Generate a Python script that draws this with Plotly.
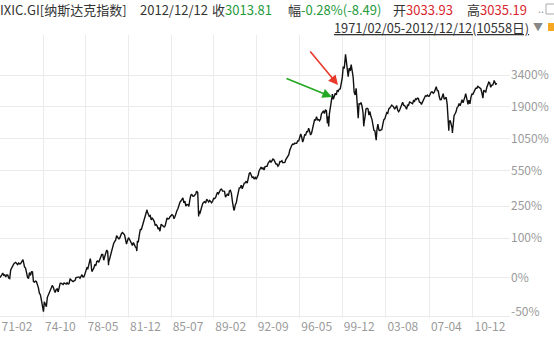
import pandas as pd
import plotly.graph_objects as go

# ---------------- data (monthly closes of the NASDAQ Composite) -------------
start_date = "1971-02-05"
base_value = 100.0

closes_1970s = [  # Feb 1971 .. Dec 1979 (month ends)
    101.3, 104.8, 108.0, 103.9, 105.0, 100.9, 104.7, 104.6, 99.0, 98.0, 114.1,
    118.9, 124.3, 126.6, 129.1, 130.4, 127.9, 125.3, 128.9, 127.0, 127.5, 131.0, 133.7,
    130.0, 120.4, 118.0, 106.8, 100.4, 98.0, 109.0, 103.7, 110.5, 110.2, 93.0, 92.2,
    94.0, 93.3, 89.7, 83.8, 76.0, 74.0, 67.6, 62.4, 55.7, 65.2, 62.4, 59.8,
    70.6, 74.0, 75.7, 79.8, 83.1, 87.0, 84.5, 80.0, 76.8, 80.9, 81.8, 77.6,
    87.0, 90.3, 90.6, 89.9, 88.3, 91.0, 90.6, 89.0, 91.3, 89.1, 90.0, 97.9,
    95.5, 94.1, 93.0, 94.3, 94.8, 99.7, 100.6, 100.1, 101.0, 98.7, 103.8, 105.1,
    100.8, 101.0, 106.2, 114.0, 118.4, 117.0, 125.0, 132.9, 131.8, 111.1, 114.1, 118.0,
    125.8, 122.6, 132.3, 133.6, 130.5, 137.0, 140.0, 150.0, 149.9, 135.5, 144.3, 151.1,
]
closes_1980s = [
    162.0, 158.0, 131.0, 139.0, 150.5, 157.8, 171.8, 181.5, 187.8, 192.8, 208.2, 202.3,
    197.8, 198.0, 210.2, 216.7, 220.6, 215.8, 211.6, 195.8, 180.0, 191.0, 201.4, 195.8,
    188.4, 178.6, 175.7, 184.7, 175.9, 171.3, 167.4, 188.3, 187.7, 212.6, 232.3, 232.4,
    248.4, 260.7, 270.8, 293.1, 308.7, 318.7, 303.0, 292.4, 296.7, 274.9, 285.7, 278.6,
    268.4, 250.8, 253.4, 247.4, 234.4, 239.7, 230.8, 255.0, 249.9, 247.0, 242.5, 247.4,
    278.7, 284.2, 279.2, 280.6, 290.8, 296.2, 301.3, 297.7, 280.3, 292.5, 313.9, 324.9,
    335.8, 359.5, 374.7, 383.2, 394.2, 405.5, 371.4, 382.9, 350.7, 360.8, 359.6, 348.8,
    392.1, 424.0, 430.1, 417.8, 416.5, 424.7, 434.9, 454.5, 444.3, 323.3, 305.2, 330.5,
    344.7, 366.6, 374.6, 379.2, 370.3, 394.7, 387.3, 376.6, 387.7, 382.5, 371.4, 381.4,
    401.3, 399.7, 406.7, 427.6, 446.2, 435.3, 453.8, 469.3, 472.9, 456.0, 456.1, 454.8,
]
closes_1990s = [
    410.7, 425.8, 435.5, 420.1, 458.0, 462.3, 438.2, 381.2, 344.5, 329.8, 359.1, 373.8,
    414.2, 453.1, 482.3, 484.7, 506.1, 475.9, 502.0, 525.7, 527.0, 542.9, 523.9, 586.3,
    620.2, 633.5, 603.8, 578.7, 585.3, 563.6, 580.8, 563.1, 583.3, 605.2, 652.7, 677.0,
    696.3, 670.8, 690.1, 661.4, 700.5, 704.0, 704.7, 742.8, 762.8, 779.3, 754.4, 776.8,
    800.5, 793.0, 743.5, 733.8, 735.2, 706.0, 722.2, 765.6, 764.3, 777.5, 750.3, 752.0,
    755.2, 793.7, 817.2, 843.9, 864.6, 933.5, 1001.2, 1020.1, 1043.5, 1036.1, 1059.2, 1052.1,
    1059.8, 1100.1, 1101.4, 1190.5, 1243.4, 1185.0, 1080.6, 1141.5, 1226.9, 1221.5, 1292.6, 1291.0,
    1379.9, 1309.0, 1221.7, 1260.8, 1400.3, 1442.1, 1593.8, 1587.3, 1685.7, 1593.6, 1600.6, 1570.4,
    1619.4, 1770.5, 1835.7, 1868.4, 1778.9, 1894.7, 1872.4, 1499.3, 1694.8, 1771.4, 1949.5, 2192.7,
    2505.9, 2288.0, 2461.4, 2542.9, 2470.5, 2686.1, 2638.5, 2739.4, 2746.2, 2966.4, 3336.2, 4069.3,
]
closes_2000s = [
    3940.4, 4696.7, 4572.8, 3860.7, 3400.9, 3966.1, 3767.0, 4206.4, 3672.8, 3370.0, 2597.9, 2470.5,
    2772.7, 2151.8, 1840.3, 2116.2, 2110.5, 2160.5, 2027.1, 1805.4, 1498.8, 1690.2, 1930.6, 1950.4,
    1934.0, 1731.5, 1845.4, 1688.2, 1615.7, 1463.2, 1328.3, 1314.9, 1172.1, 1329.8, 1478.8, 1335.5,
    1320.9, 1337.5, 1341.2, 1464.3, 1595.9, 1622.8, 1735.0, 1810.5, 1786.9, 1932.2, 1960.3, 2003.4,
    2066.2, 2029.8, 1994.2, 1920.2, 1986.7, 2047.8, 1887.4, 1838.1, 1896.8, 1975.0, 2096.8, 2175.4,
    2062.4, 2051.7, 1999.2, 1921.7, 2068.2, 2057.0, 2184.8, 2152.1, 2151.7, 2120.3, 2232.8, 2205.3,
    2305.8, 2281.4, 2339.8, 2322.6, 2178.9, 2172.1, 2091.5, 2183.8, 2258.4, 2366.7, 2431.8, 2415.3,
    2463.9, 2416.2, 2421.6, 2525.1, 2604.5, 2603.2, 2546.3, 2596.4, 2701.5, 2859.1, 2661.0, 2652.3,
    2389.9, 2271.5, 2279.1, 2412.8, 2522.7, 2293.0, 2325.6, 2367.5, 2091.9, 1720.9, 1535.6, 1577.0,
    1476.4, 1377.8, 1528.6, 1717.3, 1774.3, 1835.0, 1978.5, 2009.1, 2122.4, 2045.1, 2144.6, 2269.2,
]
closes_2010s = [  # Jan 2010 .. Nov 2012
    2147.4, 2238.3, 2398.0, 2461.2, 2257.0, 2109.2, 2254.7, 2114.0, 2368.6, 2507.4, 2498.2, 2652.9,
    2700.1, 2782.3, 2781.1, 2873.5, 2835.3, 2773.5, 2756.4, 2579.5, 2415.4, 2684.4, 2620.3, 2605.2,
    2813.8, 2966.9, 3091.6, 3046.4, 2827.3, 2935.1, 2939.5, 3067.0, 3116.2, 2977.2, 3010.2,
]
# intra-month highs / lows and the end point
extra_dates = ["1971-02-05", "1973-01-11", "1974-10-03", "1978-09-13", "1980-03-27",
               "1982-08-13", "1983-06-24", "1984-07-25", "1987-08-26", "1987-10-28",
               "1990-10-16", "1998-10-08", "2000-03-10", "2001-04-04", "2001-09-21",
               "2002-10-09", "2007-10-31", "2008-11-20", "2009-03-09", "2010-04-23",
               "2010-07-02", "2011-10-03", "2012-09-14", "2012-12-12"]
extra_values = [100.0, 136.8, 54.9, 139.3, 124.1,
                159.1, 328.9, 225.3, 455.3, 291.9,
                325.4, 1419.1, 5048.6, 1638.8, 1423.2,
                1114.1, 2859.1, 1316.1, 1268.6, 2530.0,
                2091.8, 2335.8, 3183.9, 3013.8]

x_tick_labels = ["71-02", "74-10", "78-05", "81-12", "85-07", "89-02",
                 "92-09", "96-05", "99-12", "03-08", "07-04", "10-12"]
y_tick_pct = [3400, 1900, 1050, 550, 250, 100, 0, -50]

# ---------------- build series ----------------
blocks = [("1971-02-01", closes_1970s), ("1980-01-01", closes_1980s),
          ("1990-01-01", closes_1990s), ("2000-01-01", closes_2000s),
          ("2010-01-01", closes_2010s)]
frames = []
for s, vals in blocks:
    d = pd.date_range(s, periods=len(vals), freq="ME")
    frames.append(pd.DataFrame({"date": d, "v": vals}))
frames.append(pd.DataFrame({"date": pd.to_datetime(extra_dates), "v": extra_values}))
df = pd.concat(frames).sort_values("date").drop_duplicates("date")
df = df[df["date"] <= pd.Timestamp("2012-12-12")]
ratio = df["v"] / base_value

def tick_date(lbl):
    yy, mm = lbl.split("-")
    year = int(yy) + (1900 if int(yy) > 50 else 2000)
    d = pd.Timestamp(year=year, month=int(mm), day=1)
    return max(d, pd.Timestamp(start_date))

x_tickvals = [tick_date(l) for l in x_tick_labels]
y_tickvals = [1 + p / 100 for p in y_tick_pct]
y_ticktext = [f"{p}%" for p in y_tick_pct]
y_ticktext[-1] = ""  # bottom label drawn separately (raised above the edge)

# ---------------- figure ----------------
W, H = 554, 337
PL, PR, PT, PB = 0, 510, 35, 318

def px(x):
    return (x - PL) / (PR - PL)

def py(y):
    return (PB - y) / (PB - PT)

FONT = "Noto Sans CJK SC, Microsoft YaHei, sans-serif"
GRID = "#ebebeb"
LABEL = "#9a9a9a"
DARK = "#333333"
GREEN = "#1f9a3c"
RED = "#d9252f"

fig = go.Figure()
fig.add_trace(go.Scatter(x=df["date"], y=ratio, mode="lines",
                         line=dict(color="#111111", width=1.4),
                         hoverinfo="skip", showlegend=False))

fig.update_layout(
    width=W, height=H,
    margin=dict(l=PL, r=W - PR, t=PT, b=H - PB, pad=0),
    paper_bgcolor="white", plot_bgcolor="white",
    font=dict(family=FONT, size=12, color=LABEL),
    showlegend=False,
)
fig.update_xaxes(
    type="date", range=[pd.Timestamp(start_date), pd.Timestamp("2014-01-14")],
    tickvals=x_tickvals, ticktext=x_tick_labels, ticks="",
    ticklabelshift=17, tickfont=dict(size=12, color=LABEL),
    showgrid=True, gridcolor=GRID, gridwidth=1, showline=False, zeroline=False,
)
fig.update_yaxes(
    type="log", range=[-0.309, 1.850], side="right",
    tickvals=y_tickvals, ticktext=y_ticktext, ticks="",
    tickfont=dict(size=12, color=LABEL),
    showgrid=True, gridcolor=GRID, gridwidth=1, showline=False, zeroline=False,
)

ann = []
def txt(x, y, text, size=13, color=DARK):
    ann.append(dict(xref="paper", yref="paper", x=px(x), y=py(y), text=text,
                    showarrow=False, xanchor="left", yanchor="middle",
                    font=dict(family=FONT, size=size, color=color), borderpad=0))

txt(-1, 9, "IXIC.GI[纳斯达克指数]")
txt(139, 9, "2012/12/12")
txt(211, 9, f"收<span style='color:{GREEN}'>3013.81</span>")
txt(287, 9, f"幅<span style='color:{GREEN}'>-0.28%(-8.49)</span>")
txt(392, 9, f"开<span style='color:{RED}'>3033.93</span>")
txt(466, 9, f"高<span style='color:{RED}'>3035.19</span>")
txt(333, 27, "<u>1971/02/05-2012/12/12(10558日)</u>", size=12.8)
txt(532, 26, "▼", size=10, color="#888888")
txt(537, 8, "..", size=11, color="#999999")
txt(510, 310, "-50%", size=12, color=LABEL)

# arrows
ann.append(dict(xref="paper", yref="paper", x=px(332), y=py(97), ax=-47, ay=-19,
                showarrow=True, arrowhead=2, arrowsize=1.2, arrowwidth=1.6,
                arrowcolor="#22a822", text="", standoff=0))
ann.append(dict(xref="paper", yref="paper", x=px(338), y=py(85), ax=-29, ay=-35,
                showarrow=True, arrowhead=2, arrowsize=1.2, arrowwidth=1.6,
                arrowcolor="#e8392b", text="", standoff=0))
fig.update_layout(annotations=ann)

fig.add_shape(type="rect", xref="paper", yref="paper",
              x0=px(548), x1=px(556), y0=py(31), y1=py(23),
              fillcolor="#f5a623", line=dict(width=0))
fig.add_shape(type="rect", xref="paper", yref="paper",
              x0=px(546), x1=px(556), y0=py(14), y1=py(4),
              fillcolor="rgba(0,0,0,0)", line=dict(color="#aaaaaa", width=1))

fig.write_html("out.html")
